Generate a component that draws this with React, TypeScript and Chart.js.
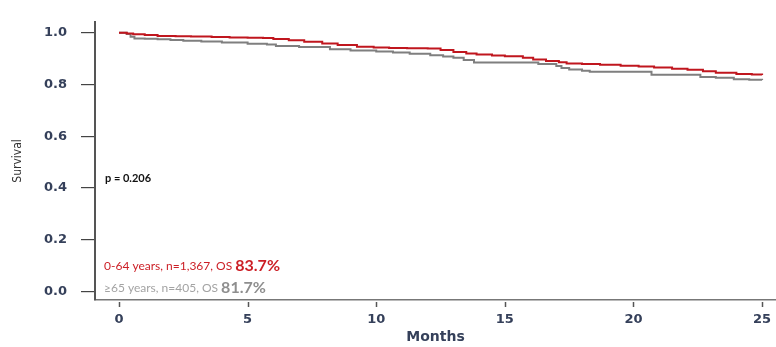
import React, { useEffect, useRef } from 'react';
import { Chart, registerables } from 'chart.js';

Chart.register(...registerables);

// ---- Data ----
const redTimes = [0, 0.3, 0.55, 1.0, 1.5, 2.2, 2.8, 3.6, 4.3, 5.0, 5.6, 6.0, 6.6, 7.2, 7.9, 8.5, 9.25, 9.9, 10.5, 11.2, 12.0, 12.5, 13.0, 13.5, 13.9, 14.5, 15.0, 15.7, 16.1, 16.6, 17.1, 17.4, 18.0, 18.7, 19.5, 20.2, 20.8, 21.5, 22.1, 22.7, 23.2, 24.0, 24.6, 25.0];
const redSurv = [1.0, 0.997, 0.994, 0.991, 0.988, 0.987, 0.986, 0.984, 0.982, 0.981, 0.980, 0.976, 0.971, 0.965, 0.959, 0.953, 0.946, 0.943, 0.941, 0.940, 0.939, 0.933, 0.926, 0.920, 0.916, 0.912, 0.909, 0.903, 0.897, 0.891, 0.886, 0.881, 0.879, 0.876, 0.873, 0.870, 0.866, 0.861, 0.857, 0.851, 0.845, 0.841, 0.839, 0.837];

const grayTimes = [0, 0.3, 0.45, 0.6, 1.0, 1.5, 2.0, 2.5, 3.2, 4.0, 5.0, 5.75, 6.1, 7.0, 8.2, 9.0, 10.0, 10.65, 11.3, 12.1, 12.6, 13.0, 13.4, 13.8, 16.3, 17.0, 17.2, 17.5, 18.0, 18.3, 20.7, 22.6, 23.2, 23.9, 24.5, 25.0];
const graySurv = [1.0, 0.995, 0.985, 0.978, 0.977, 0.975, 0.972, 0.969, 0.966, 0.962, 0.958, 0.955, 0.949, 0.945, 0.936, 0.932, 0.928, 0.924, 0.919, 0.913, 0.908, 0.903, 0.895, 0.885, 0.879, 0.872, 0.864, 0.858, 0.853, 0.849, 0.838, 0.829, 0.826, 0.820, 0.818, 0.817];

const xTickValues = [0, 5, 10, 15, 20, 25];
const yTickValues = [0, 0.2, 0.4, 0.6, 0.8, 1.0];

const pValueText = 'p = 0.206';
const redLabel = '0-64 years, n=1,367, OS ';
const redOS = '83.7%';
const grayLabel = '\u226565 years, n=405, OS ';
const grayOS = '81.7%';

const RED = '#c0161e';
const GRAY = '#7f7f7f';
const TICK_COLOR = '#35405a';
const AXIS_FONT = '"DejaVu Sans", Verdana, sans-serif';

const toPoints = (ts: number[], ss: number[]) => ts.map((t, i) => ({ x: t, y: ss[i] }));

const xTickMarks = {
  id: 'xTickMarks',
  afterDraw(chart: any) {
    const { ctx, chartArea } = chart;
    const xs = chart.scales.x;
    ctx.save();
    ctx.strokeStyle = '#555555';
    ctx.lineWidth = 1.5;
    xTickValues.forEach((v) => {
      const px = Math.round(xs.getPixelForValue(v)) + 0.5;
      ctx.beginPath();
      ctx.moveTo(px, chartArea.bottom + 2);
      ctx.lineTo(px, chartArea.bottom + 7);
      ctx.stroke();
    });
    ctx.restore();
  },
};

const annotations = {
  id: 'annotations',
  afterDraw(chart: any) {
    const { ctx, chartArea } = chart;
    const ys = chart.scales.y;
    const x0 = chartArea.left + 9;
    ctx.save();
    ctx.textBaseline = 'middle';
    ctx.textAlign = 'left';

    ctx.fillStyle = '#111111';
    ctx.font = 'bold 11px Lato, "Open Sans", sans-serif';
    ctx.fillText(pValueText, x0 + 1, ys.getPixelForValue(0.436));

    const yr = ys.getPixelForValue(0.096);
    ctx.font = '12px Lato, "Open Sans", sans-serif';
    ctx.fillStyle = '#cc1f26';
    ctx.fillText(redLabel, x0, yr);
    let w = ctx.measureText(redLabel).width;
    ctx.font = 'bold 16px Lato, "Open Sans", sans-serif';
    ctx.fillText(redOS, x0 + w, yr - 1);

    const yg = ys.getPixelForValue(0.011);
    ctx.font = '12px Lato, "Open Sans", sans-serif';
    ctx.fillStyle = '#a3a3a3';
    ctx.fillText(grayLabel, x0, yg);
    w = ctx.measureText(grayLabel).width;
    ctx.font = 'bold 16px Lato, "Open Sans", sans-serif';
    ctx.fillStyle = '#8e8e8e';
    ctx.fillText(grayOS, x0 + w, yg - 1);
    ctx.restore();
  },
};

export default function App() {
  const canvasRef = useRef<HTMLCanvasElement | null>(null);

  useEffect(() => {
    if (!canvasRef.current) return;
    const chart = new Chart(canvasRef.current, {
      type: 'line',
      data: {
        datasets: [
          {
            label: '0-64 years',
            data: toPoints(redTimes, redSurv),
            borderColor: RED,
            borderWidth: 2,
            pointRadius: 0,
            stepped: true,
            fill: false,
          },
          {
            label: '\u226565 years',
            data: toPoints(grayTimes, graySurv),
            borderColor: GRAY,
            borderWidth: 2,
            pointRadius: 0,
            stepped: true,
            fill: false,
          },
        ],
      },
      options: {
        responsive: false,
        animation: false,
        layout: { padding: { top: 9, right: 0, left: 0, bottom: 0 } },
        plugins: {
          legend: { display: false },
          tooltip: { enabled: false },
        },
        scales: {
          x: {
            type: 'linear',
            min: -0.933,
            max: 25.54,
            afterBuildTicks: (s: any) => {
              s.ticks = xTickValues.map((v) => ({ value: v }));
            },
            afterFit: (s: any) => {
              s.height = 47;
              s.paddingLeft = 0;
              s.paddingRight = 0;
            },
            grid: { display: true, drawOnChartArea: false, drawTicks: false, color: 'transparent' },
            border: { display: true, color: '#777777', width: 1.5 },
            ticks: {
              padding: 12,
              color: TICK_COLOR,
              font: { family: AXIS_FONT, size: 13, weight: 'bold' },
              callback: (v: any) => String(v),
            },
            title: {
              display: true,
              text: 'Months',
              color: TICK_COLOR,
              font: { family: AXIS_FONT, size: 14, weight: 'bold' },
              padding: { top: 0, bottom: 1 },
            },
          },
          y: {
            type: 'linear',
            min: -0.0333,
            max: 1.0425,
            afterBuildTicks: (s: any) => {
              s.ticks = yTickValues.map((v) => ({ value: v }));
            },
            afterFit: (s: any) => {
              s.width = 95;
            },
            grid: { display: true, drawOnChartArea: false, drawTicks: true, tickLength: 14, color: '#444444', lineWidth: 1.2 },
            border: { display: true, color: '#555555', width: 2 },
            ticks: {
              padding: 14,
              color: TICK_COLOR,
              font: { family: AXIS_FONT, size: 13, weight: 'bold' },
              callback: (v: any) => Number(v).toFixed(1),
            },
            title: {
              display: true,
              text: 'Survival',
              color: '#333333',
              font: { family: '"Liberation Sans Narrow", "DejaVu Sans Condensed", sans-serif', size: 12 },
              padding: { top: 11, bottom: 0 },
            },
          },
        },
      },
      plugins: [xTickMarks, annotations],
    });
    return () => chart.destroy();
  }, []);

  return (
    <div style={{ position: 'fixed', left: 0, top: 0, width: 776, height: 347, background: '#ffffff' }}>
      <canvas ref={canvasRef} width={776} height={347} />
    </div>
  );
}
